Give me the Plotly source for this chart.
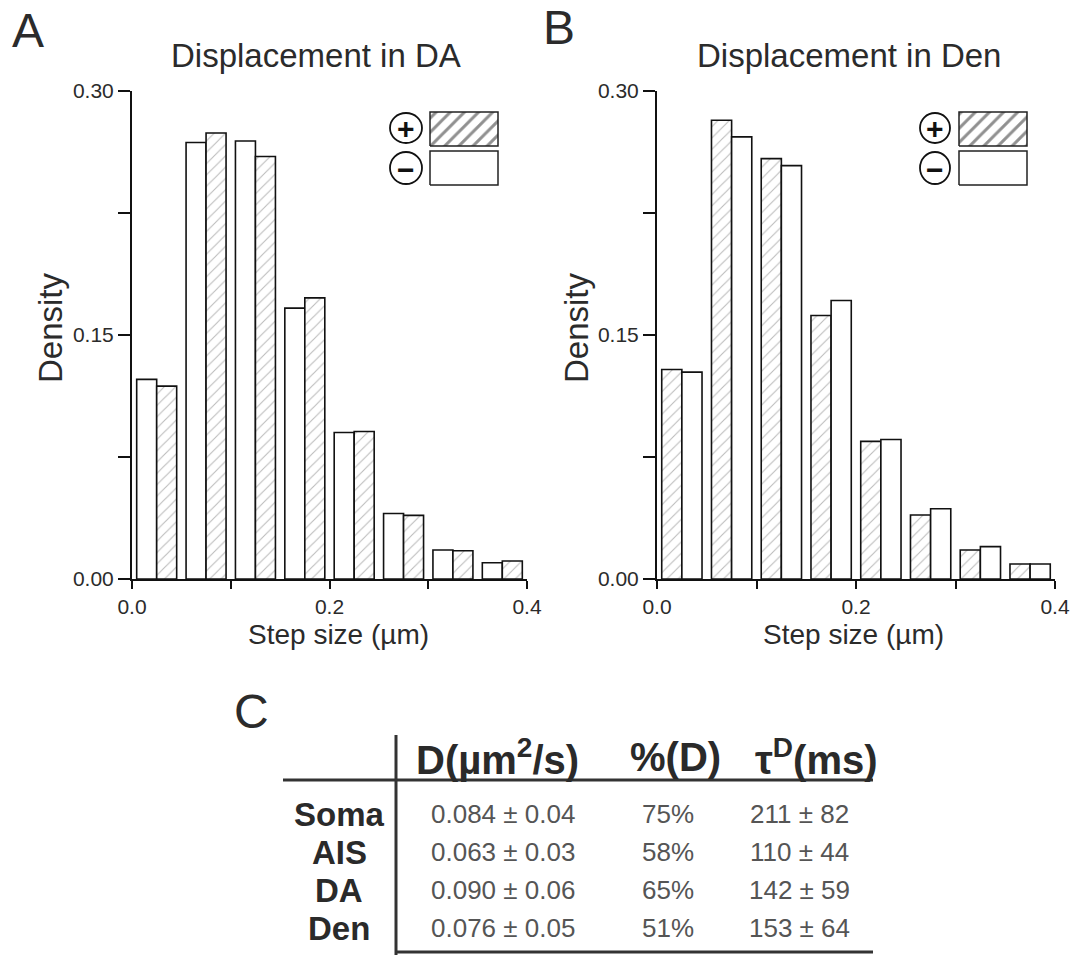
import plotly.graph_objects as go

# ---------------- data ----------------
bin_centers = [0.025, 0.075, 0.125, 0.175, 0.225, 0.275, 0.325, 0.375]
da_minus = [0.1227, 0.2683, 0.2693, 0.1665, 0.0901, 0.0403, 0.0178, 0.0100]
da_plus = [0.1186, 0.2742, 0.2597, 0.1728, 0.0907, 0.0391, 0.0174, 0.0111]
den_plus = [0.1288, 0.2820, 0.2584, 0.1620, 0.0846, 0.0393, 0.0178, 0.0092]
den_minus = [0.1272, 0.2718, 0.2541, 0.1712, 0.0858, 0.0432, 0.0199, 0.0092]

x_major = [0.0, 0.2, 0.4]
x_major_text = ["0.0", "0.2", "0.4"]
x_minor = [0.1, 0.3]
y_major = [0.0, 0.15, 0.30]
y_major_text = ["0.00", "0.15", "0.30"]
y_minor = [0.075, 0.225]

table_rows = ["Soma", "AIS", "DA", "Den"]
table_D = ["0.084 ± 0.04", "0.063 ± 0.03", "0.090 ± 0.06", "0.076 ± 0.05"]
table_pct = ["75%", "58%", "65%", "51%"]
table_tau = ["211 ± 82", "110 ± 44", "142 ± 59", "153 ± 64"]
table_headers = ["D(µm<sup>2</sup>/s)", "%(D)", "τ<sup>D</sup>(ms)"]

# ---------------- layout helpers ----------------
W, H = 1075, 955
FONT = "Liberation Sans, Arial, sans-serif"
TXT = "#2b2b2b"

def px(x):
    return x / W

def py(y):
    return 1 - y / H

PLOT_TOP, PLOT_BOT = 91, 579
A_L, A_R = 132, 527
B_L, B_R = 657, 1055

HATCH = dict(shape="/", fgcolor="#7a7a7a", bgcolor="white", size=8, solidity=0.14)
LEG_HATCH = dict(shape="/", fgcolor="#222222", bgcolor="white", size=10, solidity=0.3)
BAR_LINE = dict(color="#111", width=1.6)

fig = go.Figure()

def bar(x, y, hatched, xa, ya):
    m = dict(color="white", line=BAR_LINE)
    if hatched:
        m["pattern"] = HATCH
    return go.Bar(x=x, y=y, marker=m, xaxis=xa, yaxis=ya, showlegend=False, hoverinfo="skip")

# panel A: white (-) then hatched (+)
fig.add_trace(bar(bin_centers, da_minus, False, "x", "y"))
fig.add_trace(bar(bin_centers, da_plus, True, "x", "y"))
# panel B: hatched (+) then white (-)
fig.add_trace(bar(bin_centers, den_plus, True, "x2", "y2"))
fig.add_trace(bar(bin_centers, den_minus, False, "x2", "y2"))

XR = [0, 0.4]
YR = [0, 0.30]

# legend boxes (hatched / plain) built from axis fractions
def legend_box(left, right, top, bottom, hatched, xa, ya):
    X = [XR[0] + (XR[1] - XR[0]) * f for f in (left, right, right, left, left)]
    Y = [YR[0] + (YR[1] - YR[0]) * f for f in (bottom, bottom, top, top, bottom)]
    kw = dict(x=X, y=Y, mode="lines", fill="toself", fillcolor="white",
              line=dict(color="#222", width=1.5), xaxis=xa, yaxis=ya,
              showlegend=False, hoverinfo="skip")
    if hatched:
        kw["fillpattern"] = LEG_HATCH
    return go.Scatter(**kw)

hgt = PLOT_BOT - PLOT_TOP
for (L, R, bx0, bx1, xa, ya) in [(A_L, A_R, 430, 498, "x", "y"), (B_L, B_R, 959, 1027, "x2", "y2")]:
    bl = (bx0 - L) / (R - L)
    br = (bx1 - L) / (R - L)
    fig.add_trace(legend_box(bl, br, (PLOT_BOT - 112) / hgt, (PLOT_BOT - 146) / hgt, True, xa, ya))
    fig.add_trace(legend_box(bl, br, (PLOT_BOT - 151) / hgt, (PLOT_BOT - 185) / hgt, False, xa, ya))

# ---------------- axes ----------------
def dom(l, r):
    return [px(l), px(r)]

ydom = [py(PLOT_BOT), py(PLOT_TOP)]
axis_common = dict(showline=True, linecolor="#111", linewidth=2, showgrid=False, zeroline=False,
                   automargin=False, tickcolor="#111", tickwidth=1.6,
                   tickfont=dict(family=FONT, size=21, color=TXT))

def xmain(l, r, anchor):
    return dict(domain=dom(l, r), range=XR, anchor=anchor, ticks="outside", ticklen=8,
                tickvals=x_major, ticktext=x_major_text,
                minor=dict(tickvals=x_minor, ticks="outside", ticklen=8, tickcolor="#111", tickwidth=1.6),
                **axis_common)

def ymain(anchor):
    return dict(domain=ydom, range=YR, anchor=anchor, ticks="outside", ticklen=12,
                tickvals=y_major, ticktext=y_major_text,
                minor=dict(tickvals=y_minor, ticks="outside", ticklen=12, tickcolor="#111", tickwidth=1.6),
                **axis_common)

def xmirror(over, anchor):
    return dict(overlaying=over, side="top", anchor=anchor, range=XR, ticks="inside", ticklen=7,
                tickvals=x_major + x_minor, showticklabels=False, **axis_common)

def ymirror(over, anchor):
    return dict(overlaying=over, side="right", anchor=anchor, range=YR, ticks="inside", ticklen=9,
                tickvals=y_major + y_minor, showticklabels=False, **axis_common)

layout_axes = dict(
    xaxis=xmain(A_L, A_R, "y"), yaxis=ymain("x"),
    xaxis2=xmain(B_L, B_R, "y2"), yaxis2=ymain("x2"),
    xaxis3=xmirror("x", "y"), yaxis3=ymirror("y", "x"),
    xaxis4=xmirror("x2", "y2"), yaxis4=ymirror("y2", "x2"),
)

annotations = []
shapes = []

def ann(x, y, text, size, bold=False, color=TXT, angle=0, xanchor="center", yanchor="middle"):
    t = f"<b>{text}</b>" if bold else text
    annotations.append(dict(x=px(x), y=py(y), xref="paper", yref="paper", text=t, showarrow=False,
                            font=dict(family=FONT, size=size, color=color), textangle=angle,
                            xanchor=xanchor, yanchor=yanchor))

# panel letters and titles
ann(28, 30, "A", 48)
ann(559, 28, "B", 48)
ann(316, 55, "Displacement in DA", 33)
ann(849, 55, "Displacement in Den", 33)
# axis titles
ann(50, 328, "Density", 33, angle=-90)
ann(576, 328, "Density", 33, angle=-90)
ann(338, 634, "Step size (µm)", 28)
ann(853, 634, "Step size (µm)", 28)

# legend circles with signs
for (cx0, cx1) in [(390, 422), (920, 950)]:
    for (cy0, cy1, sign) in [(113, 143, "+"), (152, 184, "−")]:
        shapes.append(dict(type="circle", xref="paper", yref="paper",
                           x0=px(cx0), x1=px(cx1), y0=py(cy1), y1=py(cy0),
                           line=dict(color="#111", width=1.8), fillcolor="white"))
        ann((cx0 + cx1) / 2, (cy0 + cy1) / 2 + 1, sign, 30, bold=True, color="#111")

# ---------------- table C ----------------
ann(251, 711, "C", 48)
header_x = [497, 675, 816]
for hx, htxt in zip(header_x, table_headers):
    ann(hx, 757, htxt, 40, bold=True, color="#2a2a2a")

row_y = [814, 852, 890, 928]
for ry, lab, dv, pv, tv in zip(row_y, table_rows, table_D, table_pct, table_tau):
    ann(339, ry, lab, 33, bold=True, color="#2a2a2a")
    ann(503, ry, dv, 26, color="#555")
    ann(668, ry, pv, 26, color="#555")
    ann(799, ry, tv, 26, color="#555")

line_style = dict(color="#333", width=3)
shapes.append(dict(type="line", xref="paper", yref="paper", x0=px(283), x1=px(873), y0=py(780), y1=py(780), line=line_style))
shapes.append(dict(type="line", xref="paper", yref="paper", x0=px(396), x1=px(396), y0=py(735), y1=py(955), line=line_style))
shapes.append(dict(type="line", xref="paper", yref="paper", x0=px(396), x1=px(873), y0=py(952), y1=py(952), line=line_style))

fig.update_layout(
    width=W, height=H, margin=dict(l=0, r=0, t=0, b=0),
    paper_bgcolor="white", plot_bgcolor="white",
    barmode="group", bargap=0.19, bargroupgap=0.0,
    showlegend=False, annotations=annotations, shapes=shapes,
    **layout_axes,
)

fig.write_html("out.html")
